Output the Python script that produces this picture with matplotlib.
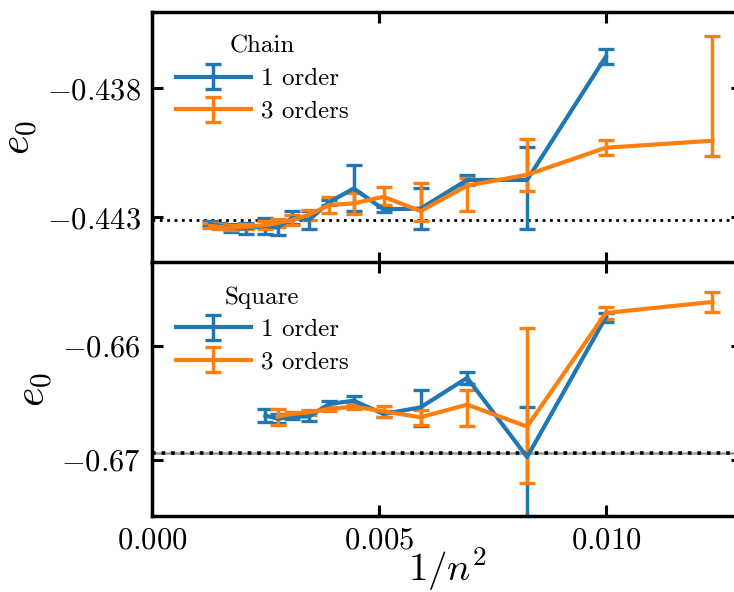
import numpy as np
import matplotlib
matplotlib.use("Agg")
import matplotlib.pyplot as plt

plt.rcParams.update({
    "font.family": "serif",
    "font.serif": ["cmr10", "DejaVu Serif"],
    "mathtext.fontset": "cm",
    "axes.formatter.use_mathtext": True,
    "axes.unicode_minus": True,
})

# ---------------- data ----------------
# Chain
chain_n1 = [28, 26, 24, 22, 20, 19, 18, 17, 16, 15, 14, 13, 12, 11, 10]
chain_e1 = [-0.44325, -0.44333, -0.44341, -0.44343, -0.44333, -0.44340, -0.44302,
            -0.44310, -0.44241, -0.44188, -0.44269, -0.44266, -0.44155, -0.44155, -0.43677]
chain_e1_lo = [0.0001, 0.0001, 0.00015, 0.0002, 0.0003, 0.0003, 0.00025,
               0.00035, 0.0001, 0.00089, 0.0001, 0.00078, 0.0002, 0.00189, 0.0003]
chain_e1_hi = [0.0001, 0.0001, 0.00015, 0.0002, 0.0003, 0.0003, 0.00025,
               0.00035, 0.0001, 0.00089, 0.0001, 0.00078, 0.0002, 0.00127, 0.0003]

chain_n3 = [28, 26, 24, 22, 20, 19, 18, 17, 16, 15, 14, 13, 12, 11, 10, 9]
chain_e3 = [-0.44333, -0.44337, -0.44340, -0.44337, -0.44330, -0.44322, -0.44310,
            -0.44290, -0.44252, -0.44246, -0.44220, -0.44276, -0.44177, -0.44135,
            -0.44030, -0.44003]
chain_e3_lo = [0.0001, 0.0001, 0.0001, 0.0001, 0.00015, 0.00015, 0.0002,
               0.0002, 0.0003, 0.0004, 0.00033, 0.00039, 0.00099, 0.000625,
               0.0003, 0.00059]
chain_e3_hi = [0.0001, 0.0001, 0.0001, 0.0001, 0.00015, 0.00015, 0.0002,
               0.0002, 0.0003, 0.0004, 0.00039, 0.00108, 0.00029, 0.0014,
               0.0003, 0.00407]
chain_ref = -0.4431

# Square
sq_n1 = [20, 19, 18, 17, 16, 15, 14, 13, 12, 11, 10]
sq_e1 = [-0.66612, -0.66640, -0.66620, -0.66621, -0.66510, -0.66481, -0.66598,
         -0.66540, -0.66280, -0.66977, -0.65746]
sq_e1_lo = [0.0006, 0.0004, 0.0002, 0.0004, 0.0003, 0.00045, 0.0003,
            0.0016, 0.0005, 0.0060, 0.0004]
sq_e1_hi = [0.0006, 0.0004, 0.0002, 0.0004, 0.0003, 0.00045, 0.0003,
            0.0015, 0.0005, 0.0044, 0.0004]

sq_n3 = [19, 18, 17, 16, 15, 14, 13, 12, 11, 10, 9]
sq_e3 = [-0.66621, -0.66598, -0.66583, -0.66554, -0.66534, -0.66575, -0.66627,
         -0.66516, -0.66709, -0.65709, -0.65612]
sq_e3_lo = [0.0007, 0.0002, 0.0002, 0.0002, 0.0002, 0.0005, 0.0007,
            0.00184, 0.00496, 0.0005, 0.00085]
sq_e3_hi = [0.0007, 0.0002, 0.0002, 0.0002, 0.0002, 0.0005, 0.00065,
            0.00129, 0.00869, 0.0005, 0.00085]
sq_ref = -0.66939

xticks = [0.0, 0.005, 0.010]
xtick_labels = ["0.000", "0.005", "0.010"]
chain_yticks = [-0.438, -0.443]
sq_yticks = [-0.66, -0.67]

# ---------------- figure ----------------
W, H = 734, 592
fig = plt.figure(figsize=(W / 100, H / 100), dpi=100)
left = 152 / W
right = 742 / W
ax1 = fig.add_axes([left, 1 - 262.5 / H, right - left, (262.5 - 12) / H])
ax2 = fig.add_axes([left, 1 - 516 / H, right - left, (516 - 262.5) / H], sharex=ax1)

blue = "#1f77b4"
orange = "#ff7f0e"
ekw = dict(lw=3.0, elinewidth=2.5, capsize=6, capthick=2.4)


def inv2(ns):
    return 1.0 / np.array(ns, dtype=float) ** 2


ax1.axhline(chain_ref, color="k", ls=":", lw=2, zorder=1)
ax1.errorbar(inv2(chain_n1), chain_e1, yerr=[chain_e1_lo, chain_e1_hi],
             color=blue, label="1 order", **ekw)
ax1.errorbar(inv2(chain_n3), chain_e3, yerr=[chain_e3_lo, chain_e3_hi],
             color=orange, label="3 orders", **ekw)

ax2.axhline(sq_ref, color="0.6", ls="-", lw=1.8, zorder=1)
ax2.axhline(sq_ref, color="k", ls=":", lw=2.6, zorder=1)
ax2.errorbar(inv2(sq_n1), sq_e1, yerr=[sq_e1_lo, sq_e1_hi],
             color=blue, label="1 order", **ekw)
ax2.errorbar(inv2(sq_n3), sq_e3, yerr=[sq_e3_lo, sq_e3_hi],
             color=orange, label="3 orders", **ekw)

ax1.set_xlim(0, 0.013)
ax1.set_ylim(-0.44475, -0.43504)
ax2.set_ylim(-0.67496, -0.65265)

ax1.set_yticks(chain_yticks)
ax1.set_yticklabels([r"$-0.438$", r"$-0.443$"])
ax2.set_yticks(sq_yticks)
ax2.set_yticklabels([r"$-0.66$", r"$-0.67$"])
ax2.set_xticks(xticks)
ax2.set_xticklabels([r"$%s$" % t for t in xtick_labels])

for ax in (ax1, ax2):
    for sp in ax.spines.values():
        sp.set_linewidth(2.5)
    ax.tick_params(direction="in", length=8, width=2.2, labelsize=22,
                   top=True, right=True, pad=8)
    ax.set_ylabel(r"$e_0$", fontsize=30)
ax1.tick_params(labelbottom=False)

ax1.yaxis.set_label_coords(-0.19, 0.5)
ax2.yaxis.set_label_coords(-0.165, 0.5)
ax2.set_xlabel(r"$1/n^2$", fontsize=28, labelpad=-7)

leg_kw = dict(loc="upper left", frameon=False, fontsize=18, title_fontsize=18,
              handlelength=3.0, handletextpad=0.4, labelspacing=0.4,
              borderaxespad=0.55, borderpad=0.4)
ax1.legend(title="Chain", **leg_kw)
ax2.legend(title="Square", **leg_kw)

fig.savefig("out.png", dpi=100)
